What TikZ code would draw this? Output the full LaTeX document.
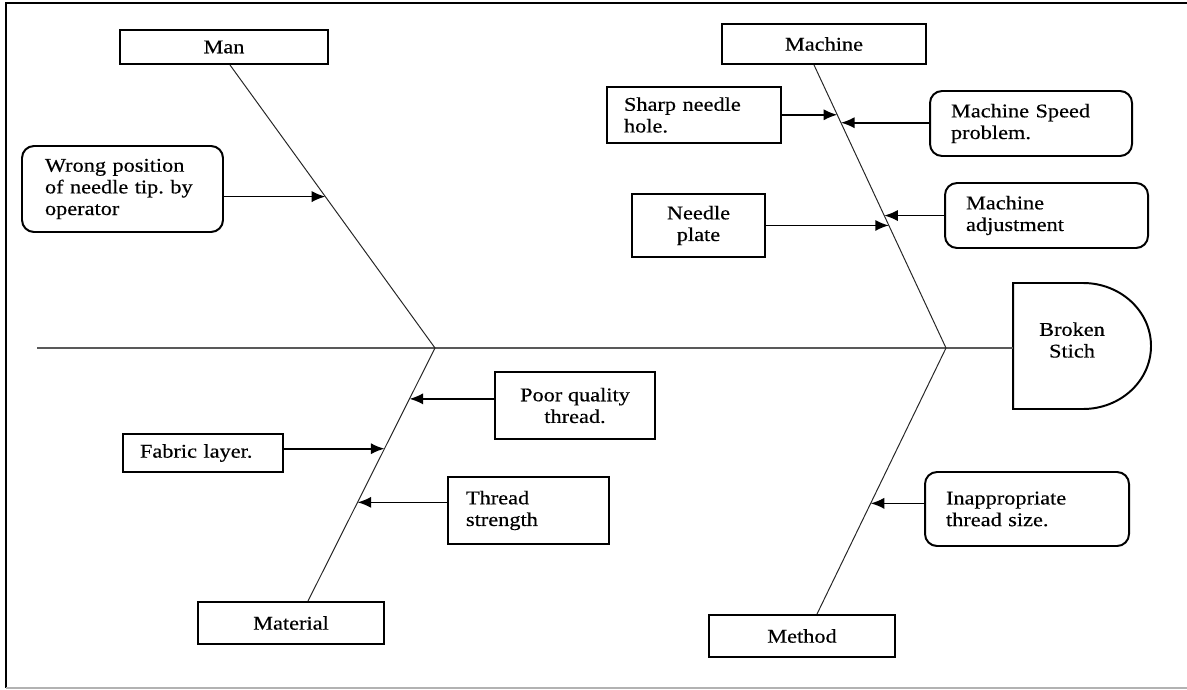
\documentclass[tikz,border=0pt]{standalone}
\usepackage{fontspec}
\setmainfont{Liberation Serif}[FakeStretch=1.15, FakeBold=0.4]
\usetikzlibrary{calc,arrows.meta}
\newdimen\px
\px=0.025cm
\frenchspacing

\tikzset{
  bone/.style={gray!30!black, line width=0.7pt},
  spine/.style={gray!70!black, line width=1pt},
  catbox/.style={draw, line width=1.4pt, align=center},
  causebox/.style={draw, line width=1.4pt, align=left},
  roundbox/.style={causebox, rounded corners=12\px},
  causearrow/.style={-{Latex[length=3.4mm,width=2.8mm]}, line width=1.2pt}
}

\begin{document}
\begin{tikzpicture}[x=0.025cm, y=-0.025cm, font=\fontsize{13.8}{15.4}\selectfont]
  \useasboundingbox (0,0) rectangle (1187,689);

  % frame
  \draw [line width=1.2pt] (1187,3) -- (6,3) -- (6,688);
  \draw [gray!60, line width=1pt] (6,688) -- (1187,688);

  % main categories
  \node [catbox, minimum width=208\px, minimum height=34\px] (man) at (224,47) {Man};
  \node [catbox, minimum width=204\px, minimum height=40\px] (machine) at (824,44) {Machine};
  \node [catbox, minimum width=186\px, minimum height=42\px] (material) at (291,623) {Material};
  \node [catbox, minimum width=186\px, minimum height=42\px] (method) at (802,636) {Method};

  % effect
  \draw [line width=1.4pt] (1013,283) -- (1083,283) arc [start angle=90, end angle=-90, x radius=68\px, y radius=63\px] -- (1013,409) -- cycle;
  \node [align=center] (bs) at (1072,340) {Broken\\Stich};

  % spine and bones
  \coordinate (tail) at (37,348);
  \coordinate (bsw) at (1013,348);
  \coordinate (jL) at (435,348);
  \coordinate (jR) at (946,348);
  \coordinate (manb) at ($(man.south)+(6,0)$);
  \coordinate (machb) at ($(machine.south)+(-10,0)$);
  \coordinate (matb) at ($(material.north)+(17,0)$);
  \coordinate (methb) at ($(method.north)+(15,0)$);
  \draw [spine] (tail) -- (bsw);
  \draw [bone] (manb) -- (jL);
  \draw [bone] (machb) -- (jR);
  \draw [bone] (jL) -- (matb);
  \draw [bone] (jR) -- (methb);

  % causes
  \node [roundbox, inner xsep=23\px, text width=155\px, minimum height=86\px] (wrong) at (122.5,189) {Wrong position\\of needle tip. by\\operator};
  \node [causebox, inner xsep=17\px, text width=140\px, minimum height=56\px] (sharp) at (694,115) {Sharp needle\\hole.};
  \node [roundbox, inner xsep=21\px, text width=160\px, minimum height=65\px] (speed) at (1031,123.5) {Machine Speed\\problem.};
  \node [catbox, minimum width=133\px, minimum height=63\px] (plate) at (698.5,225.5) {Needle\\plate};
  \node [roundbox, inner xsep=21\px, text width=161\px, minimum height=65\px] (adjust) at (1046.5,215.5) {Machine\\adjustment};
  \node [catbox, minimum width=160\px, minimum height=67\px] (poor) at (575,405.5) {Poor quality\\thread.};
  \node [causebox, inner xsep=17\px, text width=126\px, minimum height=38\px] (fabric) at (203,453) {Fabric layer.};
  \node [causebox, inner xsep=18\px, text width=125\px, minimum height=67\px] (strength) at (528.5,510.5) {Thread\\strength};
  \node [roundbox, inner xsep=21\px, text width=162\px, minimum height=74\px] (inapp) at (1027,509) {Inappropriate\\thread size.};

  % points on the bones
  \coordinate (pw) at ($(manb)!0.465!(jL)$);
  \coordinate (ps) at ($(machb)!0.176!(jR)$);
  \coordinate (pv) at ($(machb)!0.204!(jR)$);
  \coordinate (pp) at ($(machb)!0.567!(jR)$);
  \coordinate (pa) at ($(machb)!0.532!(jR)$);
  \coordinate (pq) at ($(jL)!0.201!(matb)$);
  \coordinate (pf) at ($(jL)!0.398!(matb)$);
  \coordinate (pt) at ($(jL)!0.610!(matb)$);
  \coordinate (pi) at ($(jR)!0.584!(methb)$);

  \draw [causearrow] (wrong.east |- pw) -- (pw);
  \draw [causearrow] (sharp.east |- ps) -- (ps);
  \draw [causearrow] (speed.west |- pv) -- (pv);
  \draw [causearrow] (plate.east |- pp) -- (pp);
  \draw [causearrow] (adjust.west |- pa) -- (pa);
  \draw [causearrow] (poor.west |- pq) -- (pq);
  \draw [causearrow] (fabric.east |- pf) -- (pf);
  \draw [causearrow] (strength.west |- pt) -- (pt);
  \draw [causearrow] (inapp.west |- pi) -- (pi);
\end{tikzpicture}
\end{document}
